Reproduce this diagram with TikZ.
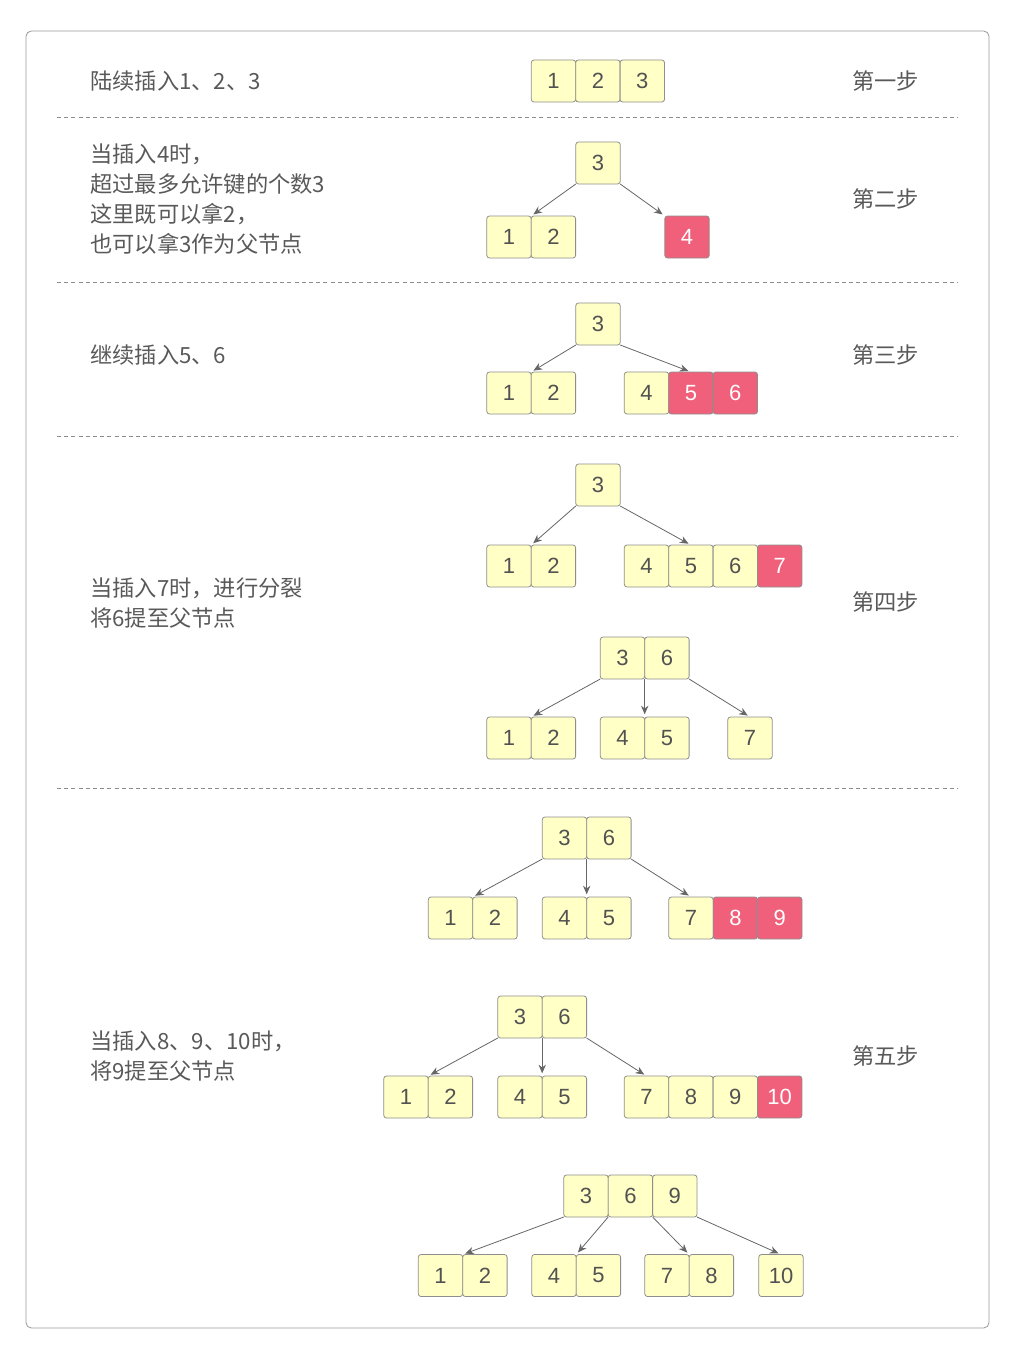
\documentclass[tikz,border=0pt]{standalone}
\usepackage{fontspec}
\setmainfont{Noto Sans CJK SC}
\newfontfamily\cellfont{Liberation Sans}
\usepackage{xcolor}
\usepackage{tikz}
\usetikzlibrary{positioning,arrows.meta}
\definecolor{cellyellow}{HTML}{FFFFC6}
\definecolor{cellred}{HTML}{F0607A}
\definecolor{cellline}{HTML}{8E8E8E}
\definecolor{textgray}{HTML}{595959}

\begin{document}
\begin{tikzpicture}[
  x=0.75pt, y=-0.75pt,
  font=\fontsize{16.7}{22.5}\selectfont,
  text=textgray,
  cellnode/.style={rectangle, rounded corners=2pt, draw=cellline, fill=cellyellow, line width=0.6pt,
                   font=\cellfont\fontsize{16.5}{18}\selectfont, text=black!68,
                   minimum width=33.3pt, minimum height=31.5pt, inner sep=0pt, outer sep=0pt},
  rednode/.style={cellnode, fill=cellred, text=white},
  infotext/.style={anchor=west, align=left, inner sep=0pt},
  steptext/.style={anchor=west, inner sep=0pt},
  sepline/.style={draw=black!45, dash pattern=on 3pt off 2.4pt, line width=0.5pt},
  every edge/.style={  % arrows from parent to child
            draw=black!60,
            ->,>={Stealth[length=6.5pt,width=5.5pt]},
            line width=0.6pt,
            shorten >=2pt}
]
  \useasboundingbox (0,0) rectangle (1015,1359);
  \draw[draw=black!40, line width=0.6pt, rounded corners=4pt] (26,31) rectangle (989,1328);

  % separators
  \draw[sepline] (57,117) -- (958,117);
  \draw[sepline] (57,282) -- (958,282);
  \draw[sepline] (57,436) -- (958,436);
  \draw[sepline] (57,788) -- (958,788);

  % texts
  \node[infotext] (t1) at (90,81) {陆续插入1、2、3};
  \node[infotext] (t2) at (90,199.5) {当插入4时，\\超过最多允许键的个数3\\这里既可以拿2，\\也可以拿3作为父节点};
  \node[infotext] (t3) at (90,355) {继续插入5、6};
  \node[infotext] (t4) at (90,603) {当插入7时，进行分裂\\将6提至父节点};
  \node[infotext] (t5) at (90,1056) {当插入8、9、10时，\\将9提至父节点};
  \node[steptext] (s1) at (852,81) {第一步};
  \node[steptext] (s2) at (852,199) {第二步};
  \node[steptext] (s3) at (852,355) {第三步};
  \node[steptext] (s4) at (852,602) {第四步};
  \node[steptext] (s5) at (852,1056) {第五步};

  % step 1
  \node[cellnode] (A1) at (553.5,81) {1};
  \node[cellnode] (A2) [right=0pt of A1] {2};
  \node[cellnode] (A3) [right=0pt of A2] {3};

  % step 2
  \node[cellnode] (B3) at (598,163) {3};
  \node[cellnode] (B1) at (509,237) {1};
  \node[cellnode] (B2) [right=0pt of B1] {2};
  \node[rednode]  (B4) at (687,237) {4};
  \draw (B3.south west) edge (B1.north east);
  \draw (B3.south east) edge (B4.north west);

  % step 3
  \node[cellnode] (C3) at (598,324) {3};
  \node[cellnode] (C1) at (509,393) {1};
  \node[cellnode] (C2) [right=0pt of C1] {2};
  \node[cellnode] (C4) at (646.5,393) {4};
  \node[rednode]  (C5) [right=0pt of C4] {5};
  \node[rednode]  (C6) [right=0pt of C5] {6};
  \draw (C3.south west) edge (C1.north east);
  \draw (C3.south east) edge (C5.north);

  % step 4
  \node[cellnode] (D3) at (598,485) {3};
  \node[cellnode] (D1) at (509,566) {1};
  \node[cellnode] (D2) [right=0pt of D1] {2};
  \node[cellnode] (D4) at (646.5,566) {4};
  \node[cellnode] (D5) [right=0pt of D4] {5};
  \node[cellnode] (D6) [right=0pt of D5] {6};
  \node[rednode]  (D7) [right=0pt of D6] {7};
  \draw (D3.south west) edge (D1.north east);
  \draw (D3.south east) edge (D5.north);

  \node[cellnode] (E3) at (622.5,658) {3};
  \node[cellnode] (E6) [right=0pt of E3] {6};
  \node[cellnode] (E1) at (509,738) {1};
  \node[cellnode] (E2) [right=0pt of E1] {2};
  \node[cellnode] (E4) at (622.5,738) {4};
  \node[cellnode] (E5) [right=0pt of E4] {5};
  \node[cellnode] (E7) at (750,738) {7};
  \draw (E3.south west) edge (E1.north east);
  \draw (E3.south east) edge (E4.north east);
  \draw (E6.south east) edge (E7.north);

  % step 5
  \node[cellnode] (F3) at (564.5,838) {3};
  \node[cellnode] (F6) [right=0pt of F3] {6};
  \node[cellnode] (F1) at (450.5,918) {1};
  \node[cellnode] (F2) [right=0pt of F1] {2};
  \node[cellnode] (F4) at (564.5,918) {4};
  \node[cellnode] (F5) [right=0pt of F4] {5};
  \node[cellnode] (F7) at (691,918) {7};
  \node[rednode]  (F8) [right=0pt of F7] {8};
  \node[rednode]  (F9) [right=0pt of F8] {9};
  \draw (F3.south west) edge (F1.north east);
  \draw (F3.south east) edge (F4.north east);
  \draw (F6.south east) edge (F7.north);

  \node[cellnode] (G3) at (520,1017) {3};
  \node[cellnode] (G6) [right=0pt of G3] {6};
  \node[cellnode] (G1) at (406,1097) {1};
  \node[cellnode] (G2) [right=0pt of G1] {2};
  \node[cellnode] (G4) at (520,1097) {4};
  \node[cellnode] (G5) [right=0pt of G4] {5};
  \node[cellnode] (G7) at (646.5,1097) {7};
  \node[cellnode] (G8) [right=0pt of G7] {8};
  \node[cellnode] (G9) [right=0pt of G8] {9};
  \node[rednode]  (G10) [right=0pt of G9] {10};
  \draw (G3.south west) edge (G1.north east);
  \draw (G3.south east) edge (G4.north east);
  \draw (G6.south east) edge (G7.north);

  \node[cellnode] (H3) at (586,1196) {3};
  \node[cellnode] (H6) [right=0pt of H3] {6};
  \node[cellnode] (H9) [right=0pt of H6] {9};
  \node[cellnode] (H1) at (440.5,1275.5) {1};
  \node[cellnode] (H2) [right=0pt of H1] {2};
  \node[cellnode] (H4) at (554,1275.5) {4};
  \node[cellnode] (H5) [right=0pt of H4] {5};
  \node[cellnode] (H7) at (667,1275.5) {7};
  \node[cellnode] (H8) [right=0pt of H7] {8};
  \node[cellnode] (H10) at (781,1275.5) {10};
  \draw (H3.south west) edge (H1.north east);
  \draw (H3.south east) edge (H4.north east);
  \draw (H6.south east) edge (H7.north east);
  \draw (H9.south east) edge (H10.north);
\end{tikzpicture}
\end{document}
